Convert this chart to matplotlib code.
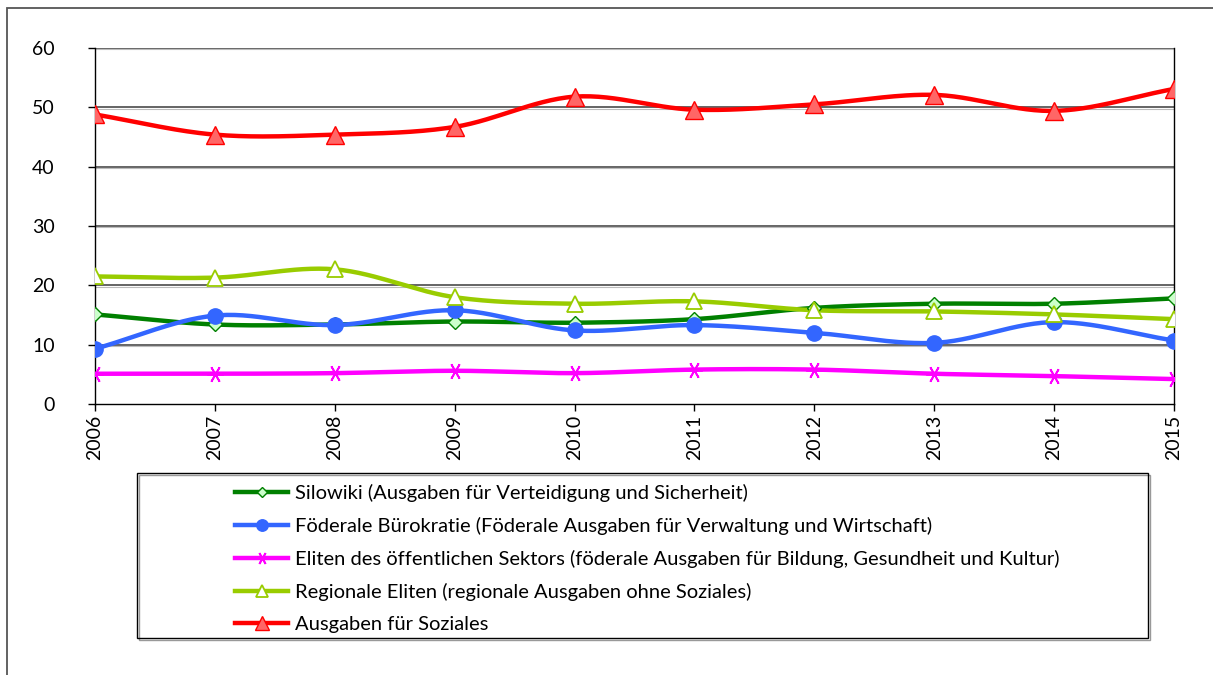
import numpy as np
import matplotlib
matplotlib.use("Agg")
import matplotlib.pyplot as plt
from matplotlib.patches import Rectangle
from matplotlib.lines import Line2D

plt.rcParams['font.family'] = ['Lato', 'DejaVu Sans']

years = [2006, 2007, 2008, 2009, 2010, 2011, 2012, 2013, 2014, 2015]
silowiki = [15.1, 13.4, 13.4, 13.9, 13.7, 14.3, 16.2, 16.9, 16.9, 17.8]
buerokratie = [9.3, 14.9, 13.3, 15.8, 12.4, 13.3, 12.0, 10.3, 13.8, 10.7]
oeffentlich = [5.1, 5.1, 5.2, 5.6, 5.2, 5.8, 5.8, 5.1, 4.7, 4.2]
regional = [21.5, 21.3, 22.7, 18.0, 16.9, 17.3, 15.8, 15.6, 15.1, 14.3]
soziales = [48.8, 45.4, 45.4, 46.7, 51.8, 49.6, 50.5, 52.1, 49.4, 53.1]

labels = [
    "Silowiki (Ausgaben für Verteidigung und Sicherheit)",
    "Föderale Bürokratie (Föderale Ausgaben für Verwaltung und Wirtschaft)",
    "Eliten des öffentlichen Sektors (föderale Ausgaben für Bildung, Gesundheit und Kultur)",
    "Regionale Eliten (regionale Ausgaben ohne Soziales)",
    "Ausgaben für Soziales",
]
yticks = [0, 10, 20, 30, 40, 50, 60]


def smooth(x, y, n=30):
    # Catmull-Rom smoothing between the data points (Excel "smoothed line")
    x = np.asarray(x, float)
    y = np.asarray(y, float)
    px = np.concatenate([[2 * x[0] - x[1]], x, [2 * x[-1] - x[-2]]])
    py = np.concatenate([[2 * y[0] - y[1]], y, [2 * y[-1] - y[-2]]])
    xs, ys = [], []
    t = np.linspace(0, 1, n, endpoint=False)
    for i in range(1, len(px) - 2):
        p0, p1, p2, p3 = py[i - 1], py[i], py[i + 1], py[i + 2]
        q0, q1, q2, q3 = px[i - 1], px[i], px[i + 1], px[i + 2]
        ty = 0.5 * ((2 * p1) + (-p0 + p2) * t + (2 * p0 - 5 * p1 + 4 * p2 - p3) * t ** 2
                    + (-p0 + 3 * p1 - 3 * p2 + p3) * t ** 3)
        tx = 0.5 * ((2 * q1) + (-q0 + q2) * t + (2 * q0 - 5 * q1 + 4 * q2 - q3) * t ** 2
                    + (-q0 + 3 * q1 - 3 * q2 + q3) * t ** 3)
        xs.append(tx)
        ys.append(ty)
    xs.append([x[-1]])
    ys.append([y[-1]])
    return np.concatenate(xs), np.concatenate(ys)


W, H = 1213, 675
fig = plt.figure(figsize=(W / 100, H / 100), dpi=100)

# outer frame
fig.patches.append(Rectangle((7 / W, -0.05), 1.1, (H - 8) / H + 0.05, transform=fig.transFigure,
                             fill=False, edgecolor='#555555', linewidth=1.3))

ax = fig.add_axes([95 / W, (H - 404) / H, (1174 - 95) / W, (404 - 48) / H])

series = [
    (silowiki, dict(color='#008000', marker='D', markersize=7, markerfacecolor='#ccffcc',
                    markeredgecolor='#008000', markeredgewidth=1.0)),
    (buerokratie, dict(color='#3366ff', marker='o', markersize=11, markerfacecolor='#3366ff',
                       markeredgecolor='#3366ff')),
    (oeffentlich, dict(color='#ff00ff', marker=(6, 2, 90), markersize=12, markerfacecolor='#ff00ff',
                       markeredgecolor='#ff00ff', markeredgewidth=1.3)),
    (regional, dict(color='#99cc00', marker='^', markersize=11, markerfacecolor='white',
                    markeredgecolor='#99cc00', markeredgewidth=1.3)),
    (soziales, dict(color='#ff0000', marker='^', markersize=12.5, markerfacecolor='#ff6666',
                    markeredgecolor='#ff0000', markeredgewidth=1.0)),
]

handles = []
for (vals, st), lab in zip(series, labels):
    sx, sy = smooth(years, vals)
    ax.plot(sx, sy, color=st['color'], linewidth=3.2, solid_capstyle='round', zorder=3)
    mk = {k: v for k, v in st.items() if k != 'color'}
    ax.plot(years, vals, linestyle='none', zorder=4, **mk)
    hs = dict(mk)
    hs['markersize'] = mk['markersize'] * 0.75
    handles.append(Line2D([], [], color=st['color'], linewidth=3.2, **hs))

ax.set_xlim(2006, 2015)
ax.set_ylim(0, 60)
ax.set_yticks(yticks)
ax.set_xticks(years)
ax.set_xticklabels([str(y) for y in years], rotation=90)
for yv in yticks[1:]:
    ax.axhline(yv, color='#3a3a3a', linewidth=1.1, zorder=1)
    ax.axhline(yv - 0.25, color='#bbbbbb', linewidth=0.8, zorder=1)
for s in ax.spines.values():
    s.set_color('black')
    s.set_linewidth(1.0)
ax.spines['top'].set_visible(False)
ax.tick_params(axis='both', labelsize=14, colors='black', length=5, width=1, direction='out')
ax.tick_params(axis='x', pad=3)
ax.tick_params(axis='y', pad=24)
for lab in ax.get_yticklabels():
    lab.set_horizontalalignment('right')

# legend box
fig.patches.append(Rectangle((137 / W, (H - 638) / H), (1148 - 137) / W, (638 - 473) / H,
                             transform=fig.transFigure, fill=False, edgecolor='black', linewidth=1.0))
fig.patches.append(Rectangle((139 / W, (H - 640) / H), (1148 - 137) / W, (638 - 473) / H,
                             transform=fig.transFigure, fill=False, edgecolor='#999999', linewidth=1.0,
                             zorder=-1))
fig.legend(handles, labels, loc='upper left', bbox_to_anchor=(217 / W, (H - 466) / H),
           frameon=False, fontsize=14.5, handlelength=2.65, handletextpad=0.3,
           labelspacing=0.74, borderpad=0.4)

fig.savefig('out.png', dpi=100)
